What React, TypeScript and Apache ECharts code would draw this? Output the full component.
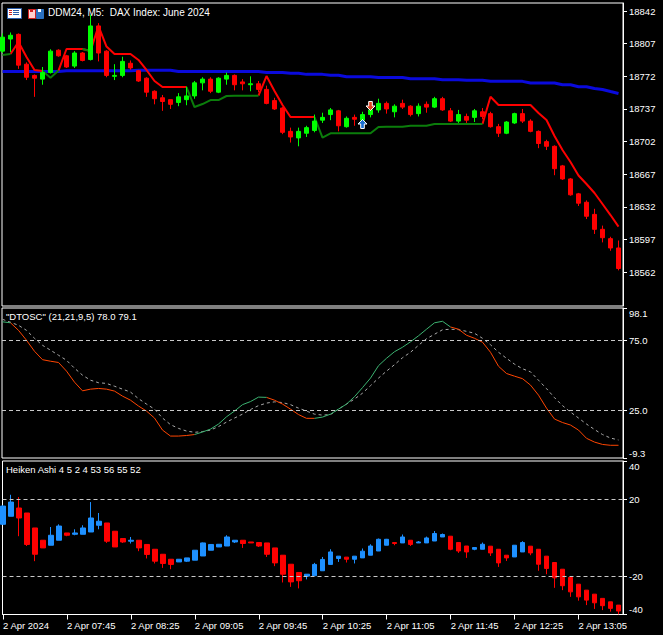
import React, { useEffect, useRef } from "react";
import * as echarts from "echarts";

const FONT = "'Liberation Sans', Arial, sans-serif";
const FS = 9.5;

const timeTickBars = [0, 8, 16, 24, 32, 40, 48, 56, 64, 72];
const timeLabels = ["2 Apr 2024", "2 Apr 07:45", "2 Apr 08:25", "2 Apr 09:05", "2 Apr 09:45", "2 Apr 10:25", "2 Apr 11:05", "2 Apr 11:45", "2 Apr 12:25", "2 Apr 13:05"];
const priceTicks = [18562, 18597, 18632, 18667, 18702, 18737, 18772, 18807, 18842];
const oscTicks = [-9.3, 25, 75, 98.1];
const haTicks = [-40, -20, 20, 40];
const oscLevels = [75, 25];
const haLevels = [20, -20];

const openP = [18799,18812,18817,18785,18773,18769,18776,18800,18794,18783,
18797,18790,18826,18799,18772,18773,18786,18778,18770,18756,
18749,18747,18744,18747,18751,18765,18769,18755,18769,18773,
18766,18763,18764,18758,18746,18738,18713,18706,18711,18714,
18725,18731,18735,18718,18728,18725,18731,18736,18743,18734,
18743,18740,18732,18742,18739,18748,18735,18724,18729,18728,
18734,18732,18718,18711,18722,18732,18724,18713,18702,18697,
18676,18662,18646,18637,18624,18608,18598,18588];
const closeP = [18814,18816,18784,18771,18770,18776,18799,18794,18782,18797,
18789,18826,18797,18773,18773,18788,18781,18767,18755,18748,
18745,18742,18750,18751,18765,18769,18756,18770,18773,18763,
18764,18764,18758,18743,18737,18712,18707,18713,18717,18724,
18728,18736,18719,18727,18726,18731,18736,18743,18737,18740,
18739,18731,18740,18739,18748,18736,18724,18731,18725,18735,
18729,18718,18711,18723,18732,18724,18713,18700,18697,18673,
18662,18645,18636,18622,18608,18599,18588,18566];
const highP = [18818,18819,18818,18787,18774,18782,18801,18801,18795,18799,
18798,18838,18829,18800,18785,18793,18789,18779,18771,18757,
18752,18747,18754,18761,18767,18771,18771,18771,18776,18774,
18769,18772,18767,18762,18749,18739,18717,18717,18719,18731,
18733,18738,18736,18729,18731,18734,18738,18748,18745,18742,
18747,18741,18743,18745,18750,18750,18738,18736,18732,18737,
18738,18734,18721,18724,18733,18737,18726,18714,18704,18698,
18677,18663,18647,18639,18630,18612,18600,18596];
const lowP = [18797,18798,18780,18768,18750,18763,18775,18793,18781,18781,
18788,18789,18788,18771,18768,18771,18779,18766,18750,18742,
18735,18737,18740,18741,18748,18757,18754,18754,18763,18757,
18757,18756,18755,18742,18736,18710,18701,18697,18707,18712,
18722,18725,18713,18717,18719,18724,18728,18733,18732,18728,
18737,18729,18729,18733,18738,18735,18723,18722,18722,18723,
18726,18717,18707,18710,18721,18722,18712,18695,18693,18666,
18661,18644,18633,18619,18603,18594,18585,18564];

const maLine = [18777.2,18777.2,18777.2,18777.2,18777.2,18777.2,18777.2,18777.2,18778.0,18778.0,
18778.0,18778.0,18778.0,18778.0,18778.0,18778.0,18778.0,18778.5,18778.5,18778.5,
18778.5,18778.5,18777.2,18777.2,18777.2,18777.2,18777.2,18777.2,18777.2,18777.2,
18777.2,18777.2,18777.2,18776.1,18776.1,18776.1,18775.3,18775.3,18774.1,18774.1,
18774.1,18773.1,18773.1,18771.6,18771.6,18771.6,18771.6,18770.7,18770.7,18770.7,
18770.7,18769.4,18769.4,18769.4,18769.4,18768.4,18768.4,18768.4,18767.7,18767.7,
18767.7,18766.6,18766.6,18766.6,18766.6,18766.6,18764.8,18764.8,18764.8,18764.8,
18763.0,18763.0,18760.9,18760.9,18758.9,18757.9,18755.7,18753.6];

const trailStop = [18794.8,18795.9,18808.8,18792.7,18778.8,18777.7,18770.5,18778.2,18801.3,18801.3,
18801.3,18799.1,18825.9,18803.9,18795.9,18795.9,18795.9,18789.5,18778.8,18767.0,
18760.5,18760.5,18760.5,18760.5,18739.1,18742.3,18746.6,18746.6,18750.9,18751.2,
18751.2,18751.2,18751.2,18772.3,18756.2,18741.2,18728.4,18728.4,18728.4,18728.4,
18706.4,18710.9,18710.9,18710.9,18710.9,18710.9,18710.9,18717.7,18718.0,18718.0,
18718.0,18719.1,18719.1,18719.1,18720.9,18720.9,18720.9,18720.9,18720.9,18720.9,
18720.9,18750.1,18741.2,18741.2,18741.2,18741.2,18741.2,18732.7,18725.2,18708.0,
18693.0,18680.1,18665.7,18656.6,18646.9,18635.1,18623.3,18610.9];
const trailDir = [1,1,-1,-1,-1,-1,1,1,-1,-1,
-1,1,-1,-1,-1,-1,-1,-1,-1,-1,
-1,-1,-1,-1,1,1,1,1,1,1,
1,1,1,-1,-1,-1,-1,-1,-1,-1,
1,1,1,1,1,1,1,1,1,1,
1,1,1,1,1,1,1,1,1,1,
1,-1,-1,-1,-1,-1,-1,-1,-1,-1,
-1,-1,-1,-1,-1,-1,-1,-1];

const arrowUp = [45, 18720.9];
const arrowDown = [46, 18740.2];

const oscFast = [88.2,87.5,82.1,75.0,67.1,61.1,60.0,59.1,52.9,45.0,
38.8,40.0,40.5,40.0,38.6,35.0,32.1,27.9,24.3,19.3,
10.7,6.4,6.4,6.8,7.5,9.3,11.4,15.0,20.2,24.3,
28.9,31.1,34.3,34.1,32.1,29.3,25.7,21.8,19.1,19.1,
20.0,22.1,25.7,29.3,34.6,41.1,47.9,56.8,62.1,66.8,
70.0,73.9,78.2,82.9,87.5,88.6,84.5,82.9,78.6,76.4,
73.6,66.4,56.4,51.2,49.3,47.5,42.9,35.7,26.4,18.6,
16.1,14.3,10.7,4.8,2.1,0.4,-0.2,-0.2];
const oscSlow = [90.0,87.9,85.7,82.1,76.4,71.4,67.9,64.3,60.7,55.0,
50.0,46.4,44.6,44.1,42.1,40.0,37.9,33.2,29.3,25.7,
19.3,14.6,11.9,10.0,9.1,9.6,10.7,13.2,16.4,19.3,
22.1,25.4,28.2,30.0,30.9,30.4,28.9,26.4,24.3,22.1,
21.4,21.8,25.7,29.3,32.9,37.1,42.5,47.9,52.9,57.5,
62.5,66.4,71.4,76.1,79.3,82.5,82.9,82.6,81.4,80.0,
76.4,71.8,66.4,62.1,57.9,54.6,52.4,46.4,40.4,33.9,
28.2,23.6,19.3,15.0,11.1,7.5,5.0,3.6];
const oscDir = [1,1,-1,-1,-1,-1,-1,-1,-1,-1,
-1,-1,-1,-1,-1,-1,-1,-1,-1,-1,
-1,-1,-1,-1,-1,1,1,1,1,1,
1,1,1,1,-1,-1,-1,-1,-1,-1,
1,1,1,1,1,1,1,1,1,1,
1,1,1,1,1,1,1,-1,-1,-1,
-1,-1,-1,-1,-1,-1,-1,-1,-1,-1,
-1,-1,-1,-1,-1,-1,-1,-1];

const haOpen = [7.0,11.2,15.5,12.9,5.1,-1.3,-3.9,-1.3,2.5,1.8,
1.8,3.0,6.5,7.7,3.4,-0.4,-1.8,-1.3,-3.5,-6.0,
-8.6,-11.2,-12.6,-12.2,-11.7,-9.5,-6.5,-4.8,-4.3,-2.2,
-1.3,-2.2,-2.5,-2.7,-5.3,-9.1,-13.8,-18.1,-20.0,-19.8,
-17.2,-13.9,-10.8,-10.1,-11.2,-10.5,-9.1,-6.9,-3.9,-2.5,
-2.7,-1.3,-2.7,-2.7,-1.7,0.4,0.8,-2.5,-4.3,-6.0,
-6.0,-4.4,-6.0,-9.1,-10.0,-7.4,-4.4,-6.0,-9.6,-12.9,
-16.4,-20.7,-24.2,-27.3,-29.4,-31.6,-33.4,-35.1];
const haClose = [16.5,18.6,10.3,-3.5,-8.6,-5.3,1.3,6.1,1.3,2.5,
5.1,10.3,8.6,-1.8,-4.8,-2.2,-1.3,-5.3,-8.7,-12.2,
-13.4,-13.9,-11.2,-10.5,-6.5,-2.7,-3.5,-3.4,0.4,-1.3,
-3.0,-2.7,-4.3,-8.6,-13.1,-19.0,-23.0,-22.4,-19.0,-13.9,
-11.3,-7.4,-9.6,-11.2,-9.6,-7.0,-4.3,-0.8,-0.8,-3.0,
0.4,-3.5,-2.2,-0.1,2.2,1.7,-6.0,-6.9,-7.4,-5.1,
-3.4,-7.9,-13.1,-10.5,-3.9,-2.5,-7.9,-13.8,-16.0,-20.9,
-25.0,-28.2,-30.8,-32.5,-33.9,-35.4,-36.8,-38.2];
const haLow = [7.0,11.2,0.8,-4.3,-12.2,-5.3,-3.9,-1.3,0.8,1.3,
1.8,3.0,4.4,-2.7,-4.8,-2.7,-3.0,-7.0,-10.8,-13.4,
-15.7,-16.4,-12.6,-12.6,-11.7,-9.5,-6.5,-4.8,-4.3,-2.7,
-5.3,-2.7,-4.8,-10.0,-14.8,-23.3,-25.6,-26.4,-21.7,-19.8,
-17.2,-13.9,-12.6,-12.9,-13.4,-10.5,-9.1,-6.9,-3.9,-3.9,
-2.7,-4.3,-2.7,-2.7,-1.7,0.4,-6.5,-7.9,-10.5,-6.5,
-6.0,-9.5,-15.2,-12.1,-10.0,-7.4,-9.1,-17.2,-19.0,-26.1,
-27.3,-30.8,-32.8,-35.1,-37.1,-37.7,-38.5,-39.9];
const haHigh = [16.9,22.4,21.2,12.9,5.1,-1.3,5.6,7.0,2.5,4.4,
6.5,18.6,12.9,7.7,3.4,-0.4,0.4,-1.3,-3.5,-6.0,
-8.6,-11.2,-11.2,-10.5,-6.5,-2.5,-3.3,-3.4,1.3,-1.3,
-1.3,-2.2,-2.5,-2.7,-5.3,-9.1,-13.8,-18.1,-19.0,-13.1,
-10.0,-6.0,-9.6,-10.1,-9.6,-5.6,-3.4,-0.4,-0.6,-2.5,
1.7,-1.3,-1.7,0.6,3.5,2.2,0.8,-2.5,-4.3,-5.1,
-2.5,-4.4,-6.0,-9.1,-3.9,-1.8,-4.4,-6.0,-9.6,-12.9,
-16.4,-20.7,-24.2,-27.3,-29.4,-31.6,-33.4,-35.1];

const XMIN = -0.0625;
const XMAX = 77.5625;

function splitByDir(vals: number[], dirs: number[], want: number) {
  return vals.map((v, i) => {
    const on = dirs[i] === want || (i + 1 < vals.length && dirs[i + 1] === want);
    return [i, on ? v : null];
  });
}

function buildOption() {
  const mainData = openP.map((o, i) => [i, o, closeP[i], lowP[i], highP[i]]);
  const haData = haOpen.map((o, i) => [i, o, haClose[i], haLow[i], haHigh[i]]);
  const white = "#ffffff";
  const hiddenX = (k: number) => ({
    type: "value", gridIndex: k, min: XMIN, max: XMAX,
    axisLine: { show: false, onZero: false }, axisTick: { show: false }, axisLabel: { show: false }, splitLine: { show: false },
  });
  const lbl = { color: white, fontSize: FS, fontFamily: FONT };
  const yBase = (k: number, min: number, max: number, ticks: number[], fmt: any, rich?: any) => ({
    type: "value", gridIndex: k, position: "right", min, max,
    splitLine: { show: false },
    axisLine: { show: true, onZero: false, lineStyle: { color: white, width: 1 } },
    axisTick: { show: true, length: 4, customValues: ticks, lineStyle: { color: white } },
    axisLabel: { ...lbl, margin: 6, customValues: ticks, formatter: fmt, rich },
  });
  const edgeRich = {
    t: { ...lbl, padding: [10, 0, 0, 0] },
    b: { ...lbl, padding: [0, 0, 10, 0] },
  };
  const levelLine = (vals: number[]) => ({
    silent: true, symbol: "none", label: { show: false },
    lineStyle: { color: "#c8c8c8", type: [4, 3], width: 1 },
    data: vals.map((v) => ({ yAxis: v })),
  });
  return {
    animation: false,
    backgroundColor: "#000000",
    grid: [
      { left: 2, top: 3, width: 621, height: 303, show: true, borderColor: white, borderWidth: 1, backgroundColor: "transparent" },
      { left: 2, top: 308, width: 621, height: 150, show: true, borderColor: white, borderWidth: 1, backgroundColor: "transparent" },
      { left: 2, top: 461, width: 621, height: 153.5, show: true, borderColor: white, borderWidth: 1, backgroundColor: "transparent" },
    ],
    xAxis: [
      hiddenX(0),
      hiddenX(1),
      {
        type: "value", gridIndex: 2, min: XMIN, max: XMAX, position: "bottom",
        splitLine: { show: false },
        axisLine: { show: true, onZero: false, lineStyle: { color: white } },
        axisTick: { show: true, length: 5, customValues: timeTickBars, lineStyle: { color: white } },
        axisLabel: {
          ...lbl, margin: 6, align: "left", customValues: timeTickBars,
          formatter: (v: number) => timeLabels[timeTickBars.indexOf(Math.round(v))] || "",
        },
      },
    ],
    yAxis: [
      yBase(0, 18525.8, 18850.6, priceTicks, (v: number) => String(v)),
      yBase(1, -9.3, 98.1, oscTicks, (v: number) => {
        const s = v.toFixed(1);
        if (v > 90) return "{t|" + s + "}";
        if (v < 0) return "{b|" + s + "}";
        return s;
      }, edgeRich),
      yBase(2, -40, 40, haTicks, (v: number) => {
        const s = String(v);
        if (v >= 40) return "{t|" + s + "}";
        if (v <= -40) return "{b|" + s + "}";
        return s;
      }, edgeRich),
    ],
    graphic: [
      { type: "rect", left: 7, top: 8, shape: { width: 14, height: 10 }, style: { fill: "#ffffff", stroke: "#2a5caa", lineWidth: 1 } },
      { type: "rect", left: 9, top: 10, shape: { width: 3, height: 1 }, style: { fill: "#d02020" } },
      { type: "rect", left: 9, top: 12, shape: { width: 3, height: 1 }, style: { fill: "#d02020" } },
      { type: "rect", left: 9, top: 14, shape: { width: 3, height: 1 }, style: { fill: "#d02020" } },
      { type: "rect", left: 13, top: 10, shape: { width: 6, height: 1 }, style: { fill: "#2a5caa" } },
      { type: "rect", left: 13, top: 12, shape: { width: 6, height: 1 }, style: { fill: "#2a5caa" } },
      { type: "rect", left: 13, top: 14, shape: { width: 6, height: 1 }, style: { fill: "#2a5caa" } },
      { type: "rect", left: 28, top: 9, shape: { width: 7, height: 9 }, style: { fill: "#ffd0d0", stroke: "#d02020", lineWidth: 1 } },
      { type: "rect", left: 30, top: 9, shape: { width: 3, height: 3 }, style: { fill: "#d02020" } },
      { type: "rect", left: 36, top: 9, shape: { width: 7, height: 9 }, style: { fill: "#2a70c0", stroke: "#2a70c0", lineWidth: 1 } },
      { type: "rect", left: 38, top: 9, shape: { width: 3, height: 3 }, style: { fill: "#ffffff" } },
      { type: "text", left: 48, top: 7, style: { text: "DDM24, M5:  DAX Index: June 2024", fill: white, fontSize: FS + 0.5, fontFamily: FONT } },
      { type: "text", left: 6, top: 311, style: { text: "\"DTOSC\" (21,21,9,5) 78.0 79.1", fill: white, fontSize: FS, fontFamily: FONT } },
      { type: "text", left: 6, top: 464, style: { text: "Heiken Ashi 4 5 2 4 53 56 55 52", fill: white, fontSize: FS, fontFamily: FONT } },
    ],
    series: [
      {
        type: "line", xAxisIndex: 0, yAxisIndex: 0, data: maLine.map((v, i) => [i, v]),
        symbol: "none", lineStyle: { color: "#0a0adc", width: 3 }, z: 2,
      },
      {
        type: "line", xAxisIndex: 0, yAxisIndex: 0, data: splitByDir(trailStop, trailDir, -1),
        symbol: "none", lineStyle: { color: "#ff0000", width: 2 }, z: 3,
      },
      {
        type: "line", xAxisIndex: 0, yAxisIndex: 0, data: splitByDir(trailStop, trailDir, 1),
        symbol: "none", lineStyle: { color: "#0b7d0b", width: 2 }, z: 3,
      },
      {
        type: "candlestick", xAxisIndex: 0, yAxisIndex: 0, data: mainData, barWidth: 5, z: 4,
        itemStyle: { color: "#00ff00", color0: "#ff0000", borderColor: "#00ff00", borderColor0: "#ff0000", borderColorDoji: "#00ff00", borderWidth: 1 },
      },
      {
        type: "scatter", xAxisIndex: 0, yAxisIndex: 0, data: [arrowUp], z: 6,
        symbol: "path://M5,0 L10,5 L7,5 L7,10 L3,10 L3,5 L0,5 Z", symbolSize: [9, 9],
        itemStyle: { color: "#1a6fd0", borderColor: "#ffffff", borderWidth: 1, opacity: 1 },
      },
      {
        type: "scatter", xAxisIndex: 0, yAxisIndex: 0, data: [arrowDown], z: 6,
        symbol: "path://M3,0 L7,0 L7,5 L10,5 L5,10 L0,5 L3,5 Z", symbolSize: [9, 9],
        itemStyle: { color: "#e04020", borderColor: "#ffffff", borderWidth: 1, opacity: 1 },
      },
      {
        type: "line", xAxisIndex: 1, yAxisIndex: 1, data: oscSlow.map((v, i) => [i, v]),
        symbol: "none", lineStyle: { color: "#a8a8a8", width: 1, type: [3, 3] },
        markLine: levelLine(oscLevels),
      },
      {
        type: "line", xAxisIndex: 1, yAxisIndex: 1, data: splitByDir(oscFast, oscDir, -1),
        symbol: "none", lineStyle: { color: "#ff4500", width: 1 },
      },
      {
        type: "line", xAxisIndex: 1, yAxisIndex: 1, data: splitByDir(oscFast, oscDir, 1),
        symbol: "none", lineStyle: { color: "#3cb371", width: 1 },
      },
      {
        type: "candlestick", xAxisIndex: 2, yAxisIndex: 2, data: haData, barWidth: 5,
        itemStyle: { color: "#1e90ff", color0: "#ff0000", borderColor: "#1e90ff", borderColor0: "#ff0000", borderColorDoji: "#1e90ff", borderWidth: 1 },
        markLine: levelLine(haLevels),
      },
    ],
  };
}

export default function App() {
  const ref = useRef<HTMLDivElement>(null);
  useEffect(() => {
    document.body.style.margin = "0";
    document.body.style.background = "#000";
    if (!ref.current) return;
    const chart = echarts.init(ref.current, null, { renderer: "svg" });
    chart.setOption(buildOption() as any);
    return () => chart.dispose();
  }, []);
  return <div ref={ref} style={{ width: 663, height: 635, background: "#000" }} />;
}
